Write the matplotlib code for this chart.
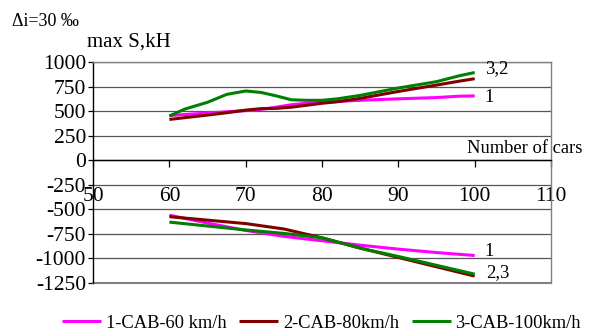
import matplotlib
matplotlib.use("Agg")
import matplotlib.pyplot as plt

plt.rcParams['font.family'] = ['Liberation Serif', 'DejaVu Serif']
plt.rcParams['axes.unicode_minus'] = False

x_top = [60, 62, 65, 67.5, 70, 72, 74, 76, 78, 80, 82, 85, 90, 95, 98, 100]
s1_top = [455, 465, 480, 493, 505, 518, 540, 565, 580, 590, 598, 610, 625, 638, 652, 655]
s2_top = [415, 433, 460, 483, 510, 525, 528, 540, 560, 580, 595, 630, 700, 765, 805, 830]
s3_top = [450, 520, 590, 670, 705, 690, 655, 615, 610, 610, 625, 660, 735, 800, 860, 893]

x_bot = [60, 65, 70, 75, 80, 85, 90, 95, 100]
s1_bot = [-560, -640, -715, -775, -820, -865, -905, -940, -970]
s2_bot = [-575, -610, -645, -700, -790, -895, -990, -1085, -1180]
s3_bot = [-630, -670, -710, -745, -790, -895, -980, -1070, -1160]

names = ['1-CAB-60 km/h', '2-CAB-80km/h', '3-CAB-100km/h']
colors = ['#ff00ff', '#800000', '#008000']

fig = plt.figure(figsize=(5.89, 3.31), dpi=100)
ax = fig.add_axes([0.158, 0.145, 0.9355 - 0.158, 0.8127 - 0.145])

tops = [s1_top, s2_top, s3_top]
bots = [s1_bot, s2_bot, s3_bot]
for i in range(3):
    ax.plot(x_top, tops[i], color=colors[i], lw=2.2, label=names[i], solid_capstyle='butt')
    ax.plot(x_bot, bots[i], color=colors[i], lw=2.2, solid_capstyle='butt')

ax.set_xlim(50, 110)
ax.set_ylim(-1250, 1000)
ax.set_xticks(range(50, 111, 10))
ax.set_yticks(range(-1250, 1001, 250))
ax.yaxis.grid(True, color='#555555', lw=0.9)
ax.set_axisbelow(True)

ax.spines['bottom'].set_position(('data', 0))
ax.spines['bottom'].set_color('black')
ax.spines['left'].set_color('black')
ax.spines['top'].set_color('#808080')
ax.spines['right'].set_color('#808080')
for s in ax.spines.values():
    s.set_linewidth(1.0)
ax.axhline(-1250, color='#808080', lw=1.5, clip_on=False)

ax.tick_params(axis='x', direction='out', length=5, width=0.9, pad=14, labelsize=15.5)
ax.tick_params(axis='y', direction='out', length=3.6, width=0.9, pad=1.5, labelsize=15.5)

ax.text(106.6, 122, 'Number of cars', fontsize=13.3, ha='center', va='center', clip_on=False)
ax.text(101.3, 935, '3,2', fontsize=13.5, ha='left', va='center')
ax.text(101.3, 640, '1', fontsize=13.5, ha='left', va='center')
ax.text(101.3, -925, '1', fontsize=13.5, ha='left', va='center')
ax.text(101.5, -1148, '2,3', fontsize=13.5, ha='left', va='center')

fig.text(87 / 589, 1 - 42 / 331, 'max S,kH', fontsize=15, ha='left', va='center')
fig.text(12 / 589, 1 - 21 / 331, 'Δi=30 ‰', fontsize=13, ha='left', va='center')

fig.legend(loc='center', bbox_to_anchor=(0.546, 1 - 323 / 331), ncol=3, frameon=False,
           fontsize=13.3, handlelength=2.1, handletextpad=0.25, columnspacing=0.7,
           borderaxespad=0, borderpad=0)

fig.savefig('out.png', dpi=100)
